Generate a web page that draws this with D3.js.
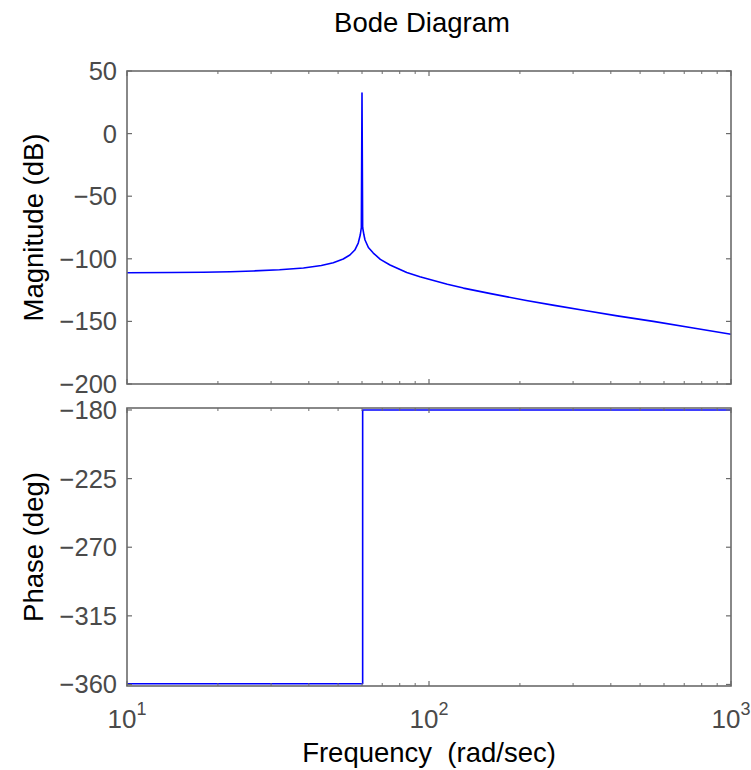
<!DOCTYPE html>
<html>
<head>
<meta charset="utf-8">
<script src="https://cdn.jsdelivr.net/npm/d3@7"></script>
<style>
  body { margin: 0; background: #fff; }
  svg { display: block; }
</style>
</head>
<body>
<script>
// values
const magFreq = [10, 14, 17.9, 22, 26.2, 32, 38.4, 44, 48.2, 52, 54.7, 56.8, 58.3, 59.2, 59.7, 60.0,
  60.3, 60.9, 61.4, 63, 65.4, 69, 74.3, 84.4, 93.3, 100, 115, 130, 160, 210, 260, 332, 420, 553, 750, 1000];
const magDb = [-111.2, -111.0, -110.7, -110.3, -109.7, -108.8, -107.3, -105.4, -103.1, -100.2, -97, -93, -87.4, -81, -75, 32.4,
  -75, -81, -85, -91, -95.4, -100.5, -105, -110.9, -114.3, -116.4, -120.3, -123.4, -127.8, -133.3, -137.2, -141.5, -145.6, -150, -155.3, -160.2];

const phaseFreq = [10, 60.3, 60.3, 1000];
const phaseDeg = [-359.5, -359.5, -180, -180];

const magTicks = [50, 0, -50, -100, -150, -200];
const phaseTicks = [-180, -225, -270, -315, -360];
const freqTicks = [10, 100, 1000];

const width = 751, height = 770;
const left = 127, right = 731;
const axisColor = "#6b6b6b";
const labelColor = "#4a4a4a";
const fontFam = "'Liberation Sans', Arial, Helvetica, sans-serif";

const svg = d3.select("body").append("svg")
    .attr("width", width)
    .attr("height", height)
    .style("font-family", fontFam);

const x = d3.scaleLog().domain([10, 1000]).range([left, right]);
const yMag = d3.scaleLinear().domain([-200, 50]).range([384, 71]);
const yPh = d3.scaleLinear().domain([-361, -178.7]).range([686, 408]);

const minorTicks = [];
[10, 100].forEach(d => { for (let k = 2; k <= 9; k++) minorTicks.push(d * k); });

const fmt = v => (v < 0 ? "\u2212" + Math.abs(v) : "" + v);

function panel(y, ticks, freqs, vals) {
  const [y0, y1] = y.range(); // bottom, top
  const g = svg.append("g");

  const line = d3.line()
      .x((d, i) => x(freqs[i]))
      .y(d => y(d));

  g.append("path")
      .datum(vals)
      .attr("fill", "none")
      .attr("stroke", "#0000ff")
      .attr("stroke-width", 1.6)
      .attr("stroke-linejoin", "round")
      .attr("d", line);

  // frame
  g.append("rect")
      .attr("x", left).attr("y", y1)
      .attr("width", right - left).attr("height", y0 - y1)
      .attr("fill", "none")
      .attr("stroke", axisColor)
      .attr("stroke-width", 1.6);

  // y ticks, inside on both sides
  ticks.forEach(t => {
    const yy = y(t);
    g.append("line").attr("x1", left).attr("x2", left + 5).attr("y1", yy).attr("y2", yy)
        .attr("stroke", axisColor).attr("stroke-width", 1.2);
    g.append("line").attr("x1", right).attr("x2", right - 5).attr("y1", yy).attr("y2", yy)
        .attr("stroke", axisColor).attr("stroke-width", 1.2);
    g.append("text")
        .attr("x", left - 10).attr("y", yy + 9)
        .attr("text-anchor", "end")
        .attr("fill", labelColor)
        .style("font-size", "25.5px")
        .text(fmt(t));
  });

  // x ticks top and bottom
  freqTicks.forEach(f => {
    const xx = x(f);
    g.append("line").attr("x1", xx).attr("x2", xx).attr("y1", y0).attr("y2", y0 - 5)
        .attr("stroke", axisColor).attr("stroke-width", 1.2);
    g.append("line").attr("x1", xx).attr("x2", xx).attr("y1", y1).attr("y2", y1 + 5)
        .attr("stroke", axisColor).attr("stroke-width", 1.2);
  });
  minorTicks.forEach(f => {
    const xx = x(f);
    g.append("line").attr("x1", xx).attr("x2", xx).attr("y1", y0).attr("y2", y0 - 3)
        .attr("stroke", axisColor).attr("stroke-width", 1);
    g.append("line").attr("x1", xx).attr("x2", xx).attr("y1", y1).attr("y2", y1 + 3)
        .attr("stroke", axisColor).attr("stroke-width", 1);
  });
  return g;
}

panel(yMag, magTicks, magFreq, magDb);
panel(yPh, phaseTicks, phaseFreq, phaseDeg);

// x tick labels as 10^n
freqTicks.forEach(f => {
  const t = svg.append("text")
      .attr("x", x(f)).attr("y", 728)
      .attr("text-anchor", "middle")
      .attr("fill", labelColor)
      .style("font-size", "26px");
  t.append("tspan").text("10");
  t.append("tspan")
      .attr("dy", -13)
      .style("font-size", "18px")
      .text(Math.round(Math.log10(f)));
});

// titles
svg.append("text")
    .attr("x", 422).attr("y", 32)
    .attr("text-anchor", "middle")
    .style("font-size", "27.5px")
    .text("Bode Diagram");

svg.append("text")
    .attr("x", (left + right) / 2).attr("y", 762)
    .attr("text-anchor", "middle")
    .style("font-size", "27.5px")
    .attr("xml:space", "preserve")
    .text("Frequency  (rad/sec)");

svg.append("text")
    .attr("transform", `translate(43, ${(71 + 384) / 2}) rotate(-90)`)
    .attr("text-anchor", "middle")
    .style("font-size", "27.5px")
    .text("Magnitude (dB)");

svg.append("text")
    .attr("transform", `translate(43, ${(408 + 686) / 2}) rotate(-90)`)
    .attr("text-anchor", "middle")
    .style("font-size", "27.5px")
    .text("Phase (deg)");
</script>
</body>
</html>
